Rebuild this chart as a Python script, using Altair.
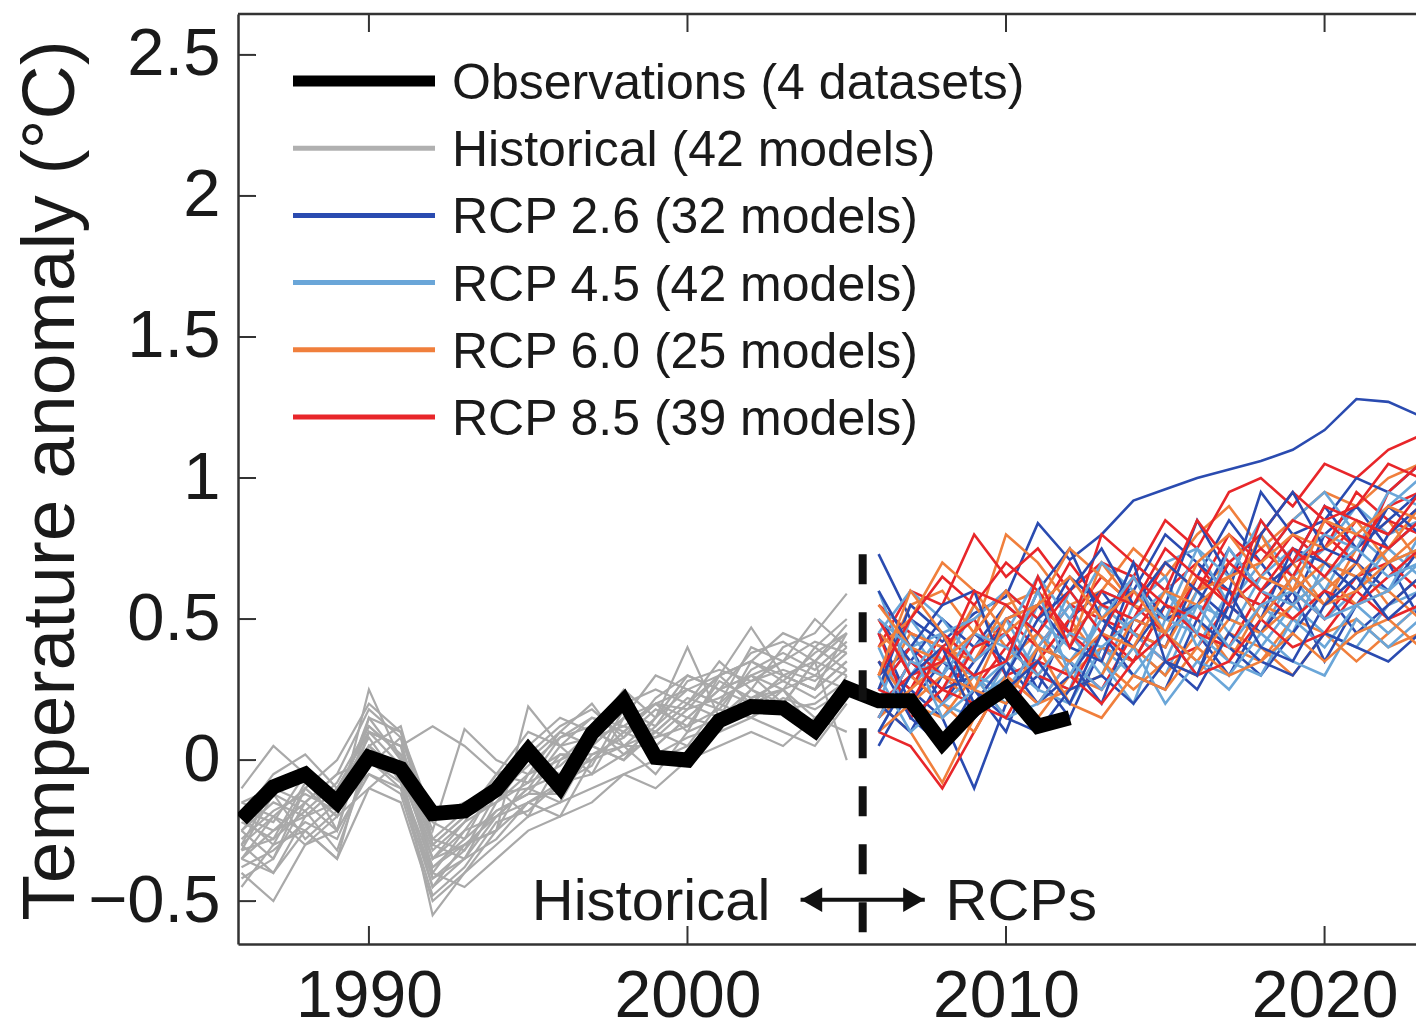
import altair as alt
import pandas as pd

# ---------------- data ----------------
years_obs = list(range(1986, 2013))
obs = [-0.21, -0.095, -0.05, -0.15, 0.01, -0.03, -0.19, -0.18, -0.105, 0.035,
       -0.095, 0.095, 0.21, 0.01, 0.0, 0.14, 0.19, 0.185, 0.105, 0.255,
       0.21, 0.21, 0.06, 0.18, 0.255, 0.12, 0.15]

years_hist = list(range(1986, 2006))
hist_models = [
    [-0.45, -0.30, -0.25, -0.35, -0.10, -0.15, -0.50, -0.40, -0.30, -0.20, -0.15, -0.10, -0.05, -0.10, 0.00, 0.05, 0.10, 0.05, 0.15, 0.10],
    [-0.20, -0.05, 0.02, -0.10, 0.10, 0.05, 0.12, 0.05, -0.05, 0.10, 0.05, 0.15, 0.10, 0.20, 0.25, 0.20, 0.30, 0.35, 0.30, 0.40],
    [-0.30, -0.40, -0.20, -0.15, 0.05, -0.05, -0.35, -0.25, -0.20, -0.10, -0.05, 0.00, 0.10, 0.05, 0.15, 0.25, 0.20, 0.30, 0.25, 0.35],
    [-0.15, -0.20, -0.10, -0.20, 0.25, 0.00, -0.30, -0.35, -0.15, -0.05, 0.00, 0.05, 0.00, 0.15, 0.40, 0.15, 0.25, 0.20, 0.35, 0.30],
    [-0.35, -0.25, -0.15, -0.05, 0.00, -0.10, -0.45, -0.30, -0.25, 0.19, 0.05, -0.05, 0.15, 0.20, 0.10, 0.30, 0.47, 0.30, 0.25, 0.45],
    [-0.25, -0.15, -0.20, -0.10, 0.10, 0.05, -0.25, 0.11, 0.00, -0.05, 0.10, 0.20, 0.05, 0.10, 0.20, 0.35, 0.25, 0.40, 0.45, 0.59],
    [-0.40, -0.50, -0.30, -0.25, -0.05, -0.10, -0.40, -0.45, -0.35, -0.25, -0.20, -0.15, -0.05, 0.00, 0.05, 0.10, 0.15, 0.10, 0.05, 0.20],
    [-0.10, 0.05, -0.05, -0.15, 0.15, 0.10, -0.20, -0.15, -0.10, 0.05, 0.15, 0.10, 0.20, 0.25, 0.20, 0.30, 0.35, 0.45, 0.40, 0.50],
    [-0.30, -0.20, -0.25, -0.35, 0.05, -0.05, -0.55, -0.40, -0.25, -0.15, -0.20, 0.00, 0.05, -0.05, 0.10, 0.15, 0.20, 0.25, 0.10, 0.30],
    [-0.20, -0.30, -0.10, 0.00, 0.20, 0.10, -0.30, -0.20, -0.05, 0.00, 0.10, 0.05, 0.15, 0.30, 0.25, 0.20, 0.40, 0.35, 0.50, 0.40],
    [-0.35, -0.20, -0.30, -0.20, -0.10, 0.00, -0.35, -0.30, -0.20, -0.10, -0.15, 0.05, 0.00, 0.10, 0.05, 0.20, 0.15, 0.25, 0.30, 0.25],
    [-0.25, -0.35, -0.15, -0.25, 0.10, 0.05, -0.40, -0.25, -0.10, -0.20, 0.00, 0.10, 0.25, 0.15, 0.30, 0.25, 0.30, 0.20, 0.35, 0.00],
    [-0.28, -0.18, -0.12, -0.18, 0.02, -0.02, -0.32, -0.22, -0.15, -0.08, -0.02, 0.08, 0.12, 0.08, 0.18, 0.22, 0.28, 0.32, 0.28, 0.38],
    [-0.22, -0.28, -0.08, -0.12, 0.08, -0.08, -0.38, -0.28, -0.18, -0.12, 0.02, 0.02, 0.08, 0.18, 0.12, 0.28, 0.22, 0.28, 0.22, 0.32],
    [-0.32, -0.12, -0.18, -0.08, 0.12, 0.02, -0.28, -0.32, -0.12, -0.02, 0.08, 0.12, 0.02, 0.12, 0.22, 0.18, 0.32, 0.38, 0.32, 0.42],
    [-0.38, -0.32, -0.22, -0.28, -0.02, 0.08, -0.42, -0.35, -0.28, -0.15, -0.08, -0.02, 0.18, 0.02, 0.08, 0.12, 0.25, 0.18, 0.20, 0.28],
    [-0.30, -0.10, -0.05, -0.25, 0.15, 0.00, -0.30, -0.20, -0.15, 0.00, -0.05, 0.10, 0.05, 0.15, 0.25, 0.30, 0.20, 0.30, 0.35, 0.45],
    [-0.20, -0.25, -0.20, -0.10, 0.05, -0.05, -0.45, -0.35, -0.20, -0.15, -0.10, 0.05, 0.15, 0.10, 0.20, 0.15, 0.35, 0.30, 0.25, 0.35],
    [-0.42, -0.35, -0.10, -0.20, 0.10, -0.02, -0.38, -0.30, -0.25, -0.05, 0.02, 0.00, 0.10, 0.20, 0.15, 0.25, 0.30, 0.25, 0.40, 0.32],
    [-0.15, -0.10, -0.15, -0.05, 0.18, 0.08, -0.22, -0.28, -0.08, 0.02, 0.12, 0.18, 0.08, 0.22, 0.30, 0.25, 0.38, 0.42, 0.35, 0.48],
    [-0.35, -0.40, -0.25, -0.15, -0.05, -0.12, -0.48, -0.38, -0.22, -0.18, -0.08, -0.05, 0.02, 0.08, 0.12, 0.18, 0.15, 0.22, 0.18, 0.25],
    [-0.25, -0.12, -0.28, -0.18, 0.05, 0.12, -0.28, -0.18, -0.12, -0.10, 0.05, 0.08, 0.18, 0.12, 0.28, 0.32, 0.28, 0.35, 0.42, 0.38],
    [-0.18, -0.22, -0.05, -0.12, 0.12, 0.02, -0.35, -0.22, -0.05, -0.08, 0.08, 0.15, 0.12, 0.20, 0.18, 0.30, 0.35, 0.28, 0.38, 0.45],
    [-0.32, -0.28, -0.18, -0.32, 0.00, -0.08, -0.42, -0.32, -0.18, -0.12, -0.12, 0.02, 0.05, 0.05, 0.15, 0.12, 0.22, 0.25, 0.15, 0.22],
]

years_rcp = list(range(2006, 2024))
rcp26 = [
    [0.73, 0.50, 0.42, 0.52, 0.58, 0.84, 0.71, 0.80, 0.92, 0.96, 1.00, 1.03, 1.06, 1.10, 1.17, 1.28, 1.27, 1.22],
    [0.05, 0.25, 0.15, -0.10, 0.20, 0.30, 0.15, 0.40, 0.35, 0.55, 0.45, 0.30, 0.50, 0.65, 0.55, 0.70, 0.60, 0.75],
    [0.30, 0.40, 0.20, 0.35, 0.45, 0.25, 0.50, 0.60, 0.45, 0.40, 0.65, 0.85, 0.70, 0.55, 0.80, 0.90, 0.75, 0.85],
    [0.45, 0.20, 0.35, 0.25, 0.10, 0.40, 0.35, 0.20, 0.50, 0.45, 0.30, 0.55, 0.45, 0.60, 0.35, 0.55, 0.70, 0.50],
    [0.15, 0.35, 0.50, 0.40, 0.55, 0.45, 0.65, 0.55, 0.60, 0.80, 0.70, 0.60, 0.95, 0.80, 0.85, 1.00, 0.95, 1.05],
    [0.20, 0.10, 0.30, 0.45, 0.35, 0.20, 0.30, 0.45, 0.30, 0.25, 0.50, 0.40, 0.30, 0.45, 0.60, 0.45, 0.55, 0.65],
    [0.50, 0.35, 0.25, 0.30, 0.50, 0.55, 0.40, 0.35, 0.65, 0.50, 0.55, 0.75, 0.60, 0.70, 0.90, 0.75, 0.85, 0.95],
    [0.25, 0.55, 0.45, 0.20, 0.35, 0.60, 0.75, 0.50, 0.40, 0.55, 0.85, 0.65, 0.50, 0.75, 0.70, 0.60, 0.80, 0.90],
    [0.35, 0.15, 0.05, 0.25, 0.15, 0.10, 0.25, 0.30, 0.20, 0.35, 0.25, 0.45, 0.35, 0.30, 0.45, 0.40, 0.35, 0.45],
    [0.60, 0.40, 0.55, 0.60, 0.30, 0.50, 0.60, 0.75, 0.55, 0.70, 0.60, 0.50, 0.80, 0.95, 0.75, 0.70, 0.90, 0.80],
    [0.10, 0.30, 0.40, 0.15, 0.25, 0.35, 0.20, 0.45, 0.70, 0.35, 0.30, 0.60, 0.40, 0.35, 0.55, 0.65, 0.50, 0.60],
]
rcp45 = [
    [0.35, 0.25, 0.40, 0.30, 0.20, 0.45, 0.35, 0.50, 0.40, 0.30, 0.55, 0.50, 0.45, 0.65, 0.50, 0.60, 0.75, 0.65],
    [0.55, 0.45, 0.30, 0.55, 0.40, 0.35, 0.60, 0.45, 0.70, 0.60, 0.50, 0.70, 0.80, 0.65, 0.75, 0.90, 0.80, 0.85],
    [0.10, 0.30, 0.20, 0.15, 0.35, 0.25, 0.20, 0.40, 0.30, 0.45, 0.35, 0.25, 0.40, 0.55, 0.45, 0.40, 0.55, 0.60],
    [0.25, 0.40, 0.45, 0.20, 0.30, 0.55, 0.45, 0.30, 0.55, 0.65, 0.40, 0.60, 0.55, 0.45, 0.70, 0.65, 0.60, 0.80],
    [0.40, 0.15, 0.25, 0.40, 0.50, 0.30, 0.25, 0.55, 0.45, 0.35, 0.60, 0.45, 0.65, 0.75, 0.60, 0.80, 0.70, 0.75],
    [0.20, 0.50, 0.35, 0.30, 0.25, 0.40, 0.55, 0.35, 0.20, 0.50, 0.45, 0.35, 0.30, 0.50, 0.40, 0.55, 0.45, 0.55],
    [0.60, 0.30, 0.45, 0.50, 0.60, 0.50, 0.40, 0.60, 0.55, 0.70, 0.75, 0.55, 0.70, 0.85, 0.95, 0.80, 0.90, 1.00],
    [0.45, 0.60, 0.50, 0.35, 0.45, 0.65, 0.50, 0.70, 0.60, 0.50, 0.75, 0.65, 0.85, 0.70, 0.80, 0.75, 0.95, 0.90],
    [0.30, 0.10, 0.20, 0.30, 0.15, 0.20, 0.35, 0.25, 0.40, 0.20, 0.35, 0.30, 0.45, 0.35, 0.30, 0.50, 0.40, 0.50],
    [0.15, 0.35, 0.30, 0.45, 0.40, 0.30, 0.45, 0.40, 0.50, 0.60, 0.45, 0.75, 0.60, 0.55, 0.65, 0.75, 0.65, 0.70],
    [0.50, 0.40, 0.15, 0.25, 0.35, 0.60, 0.30, 0.50, 0.65, 0.45, 0.55, 0.40, 0.55, 0.60, 0.50, 0.55, 0.60, 0.70],
]
rcp60 = [
    [0.30, 0.55, 0.60, 0.45, 0.80, 0.70, 0.55, 0.60, 0.75, 0.65, 0.80, 0.90, 0.75, 0.85, 0.95, 0.90, 1.00, 1.05],
    [0.20, 0.10, -0.08, 0.15, 0.25, 0.15, 0.30, 0.25, 0.40, 0.30, 0.45, 0.40, 0.35, 0.50, 0.45, 0.35, 0.45, 0.55],
    [0.45, 0.35, 0.30, 0.20, 0.35, 0.45, 0.30, 0.40, 0.35, 0.55, 0.50, 0.35, 0.55, 0.50, 0.60, 0.70, 0.55, 0.65],
    [0.15, 0.25, 0.35, 0.55, 0.40, 0.30, 0.45, 0.55, 0.45, 0.40, 0.60, 0.70, 0.60, 0.70, 0.55, 0.75, 0.85, 0.70],
    [0.35, 0.20, 0.15, 0.30, 0.15, 0.35, 0.50, 0.35, 0.25, 0.35, 0.30, 0.45, 0.40, 0.30, 0.45, 0.50, 0.40, 0.45],
    [0.25, 0.45, 0.40, 0.35, 0.55, 0.60, 0.40, 0.70, 0.55, 0.50, 0.65, 0.55, 0.80, 0.60, 0.70, 0.65, 0.75, 0.90],
    [0.50, 0.30, 0.20, 0.10, 0.30, 0.20, 0.25, 0.30, 0.50, 0.45, 0.35, 0.50, 0.45, 0.55, 0.65, 0.55, 0.60, 0.50],
    [0.40, 0.50, 0.70, 0.60, 0.45, 0.55, 0.75, 0.65, 0.55, 0.70, 0.60, 0.65, 0.70, 0.80, 0.75, 0.85, 0.70, 0.80],
    [0.10, 0.20, 0.30, 0.25, 0.20, 0.40, 0.20, 0.15, 0.30, 0.25, 0.40, 0.30, 0.35, 0.45, 0.35, 0.45, 0.50, 0.40],
    [0.55, 0.40, 0.35, 0.45, 0.60, 0.40, 0.35, 0.45, 0.40, 0.60, 0.55, 0.65, 0.50, 0.65, 0.55, 0.60, 0.70, 0.75],
    [0.30, 0.60, 0.45, 0.25, 0.50, 0.55, 0.65, 0.50, 0.60, 0.45, 0.70, 0.80, 0.65, 0.60, 0.85, 0.80, 0.90, 0.85],
]
rcp85 = [
    [0.40, 0.60, 0.55, 0.80, 0.65, 0.75, 0.60, 0.70, 0.65, 0.85, 0.75, 0.95, 1.00, 0.90, 1.05, 1.00, 1.10, 1.15],
    [0.10, 0.05, -0.10, 0.10, 0.30, 0.20, 0.35, 0.25, 0.45, 0.35, 0.40, 0.55, 0.45, 0.60, 0.50, 0.65, 0.70, 0.60],
    [0.35, 0.25, 0.45, 0.35, 0.50, 0.40, 0.55, 0.50, 0.45, 0.60, 0.70, 0.55, 0.65, 0.80, 0.70, 0.85, 0.80, 0.90],
    [0.25, 0.40, 0.30, 0.25, 0.40, 0.55, 0.45, 0.35, 0.60, 0.50, 0.55, 0.65, 0.75, 0.65, 0.85, 0.75, 0.90, 0.95],
    [0.55, 0.45, 0.40, 0.50, 0.30, 0.35, 0.50, 0.65, 0.55, 0.45, 0.65, 0.60, 0.55, 0.70, 0.75, 0.95, 0.85, 0.80],
    [0.20, 0.30, 0.20, 0.40, 0.45, 0.30, 0.25, 0.45, 0.35, 0.55, 0.45, 0.40, 0.60, 0.50, 0.60, 0.55, 0.65, 0.75],
    [0.45, 0.15, 0.25, 0.45, 0.60, 0.50, 0.70, 0.55, 0.50, 0.70, 0.60, 0.80, 0.70, 0.85, 0.80, 0.70, 0.95, 1.05],
    [0.30, 0.50, 0.65, 0.55, 0.70, 0.60, 0.45, 0.80, 0.70, 0.60, 0.85, 0.70, 0.80, 0.95, 0.85, 0.90, 1.05, 1.00],
    [0.15, 0.35, 0.25, 0.20, 0.15, 0.35, 0.30, 0.20, 0.35, 0.45, 0.30, 0.35, 0.50, 0.40, 0.45, 0.60, 0.50, 0.55],
    [0.50, 0.30, 0.35, 0.60, 0.55, 0.45, 0.60, 0.45, 0.65, 0.55, 0.50, 0.70, 0.60, 0.75, 0.65, 0.80, 0.75, 0.85],
    [0.25, 0.20, 0.40, 0.30, 0.35, 0.65, 0.40, 0.60, 0.55, 0.75, 0.65, 0.55, 0.85, 0.70, 0.90, 0.85, 0.80, 0.95],
]

scenarios = ["RCP 2.6", "RCP 4.5", "RCP 6.0", "RCP 8.5"]
legend_labels = ["Observations (4 datasets)", "Historical (42 models)",
                 "RCP 2.6 (32 models)", "RCP 4.5 (42 models)",
                 "RCP 6.0 (25 models)", "RCP 8.5 (39 models)"]
annot_labels = ["Historical", "RCPs"]
boundary_year = [2005.5]
boundary_top = [0.73]
arrow_x = [2003.55, 2007.45]
arrow_y = [-0.495]
annot_x = [2002.6, 2008.1]
x_ticks = [1990, 2000, 2010, 2020]
y_ticks = [-0.5, 0, 0.5, 1, 1.5, 2, 2.5]

# ---------------- style ----------------
FONT = "Liberation Sans"
TXT = "#1a1a1a"
AX = "#333333"
GRAY = "#a9a9a9"
COLORS = ["#2a4bb0", "#6aa6d8", "#f07f3c", "#e8262a"]
LEG_COLORS = ["#000000", "#b0b0b0"] + COLORS
LEG_WIDTHS = [11, 5, 5, 5, 5, 5]
W, H = 1178, 930

# ---------------- tables ----------------
hist_rows = []
for m, vals in enumerate(hist_models):
    for yr, v in zip(years_hist, vals):
        hist_rows.append({"model": f"h{m:02d}", "year": yr, "temp": v})
df_hist = pd.DataFrame(hist_rows)

rcp_rows = []
groups = [rcp26, rcp45, rcp60, rcp85]
for m in range(len(rcp26)):
    for s, grp in enumerate(groups):
        for yr, v in zip(years_rcp, grp[m]):
            rcp_rows.append({"model": f"m{m:02d}_{s}", "scenario": scenarios[s],
                             "year": yr, "temp": v})
df_rcp = pd.DataFrame(rcp_rows)

df_obs = pd.DataFrame({"year": years_obs, "temp": obs})

xscale = alt.Scale(domain=[1985.89, 2022.87], nice=False, zero=False)
yscale = alt.Scale(domain=[-0.652, 2.645], nice=False, zero=False)

xaxis = alt.Axis(values=x_ticks, format="d", labelFontSize=66, labelFont=FONT,
                 labelColor=TXT, ticks=False, tickSize=0, labelPadding=20,
                 grid=False, domainColor=AX, domainWidth=2.5, title=None,
                 labelFlush=False, labelOverlap=False)
yaxis = alt.Axis(values=y_ticks, format="~g", labelFontSize=67, labelFont=FONT,
                 labelColor=TXT, ticks=False, tickSize=0, labelPadding=18,
                 grid=False, domainColor=AX, domainWidth=2.5,
                 title="Temperature anomaly (°C)", titleFontSize=75,
                 titleFont=FONT, titleFontWeight="normal", titleColor=TXT,
                 titleX=-165, titleY=466, titleAngle=270, titleAlign="center",
                 titleBaseline="alphabetic", labelFlush=False, labelOverlap=False)


def X(field):
    return alt.X(field, type="quantitative", scale=xscale, axis=xaxis)


def Y(field):
    return alt.Y(field, type="quantitative", scale=yscale, axis=yaxis)


hist_layer = alt.Chart(df_hist).mark_line(strokeWidth=2.2, color=GRAY, clip=True).encode(
    x=X("year"), y=Y("temp"), detail="model:N")

rcp_layer = alt.Chart(df_rcp).mark_line(strokeWidth=2.6, clip=True).encode(
    x=X("year"), y=Y("temp"), detail="model:N",
    color=alt.Color("scenario:N", scale=alt.Scale(domain=scenarios, range=COLORS), legend=None))

obs_layer = alt.Chart(df_obs).mark_line(strokeWidth=15, color="#000000", clip=True,
                                        strokeJoin="miter", strokeMiterLimit=3).encode(
    x=X("year"), y=Y("temp"))

dash_layer = alt.Chart(pd.DataFrame({"x": boundary_year, "y": boundary_top})).mark_rule(
    strokeDash=[30, 28], strokeWidth=8, color="#111111").encode(
    x=X("x"), y=Y("y"), y2=alt.value(H))

arrow_df = pd.DataFrame({"x": [arrow_x[0]], "x2": [arrow_x[1]], "y": arrow_y})
arrow_line = alt.Chart(arrow_df).mark_rule(strokeWidth=4, color="#111111").encode(
    x=X("x"), x2="x2:Q", y=Y("y"))
head_l = alt.Chart(pd.DataFrame({"x": [arrow_x[0]], "y": arrow_y})).mark_point(
    shape="triangle-left", filled=True, size=600, color="#111111", opacity=1, xOffset=11).encode(
    x=X("x"), y=Y("y"))
head_r = alt.Chart(pd.DataFrame({"x": [arrow_x[1]], "y": arrow_y})).mark_point(
    shape="triangle-right", filled=True, size=600, color="#111111", opacity=1, xOffset=-11).encode(
    x=X("x"), y=Y("y"))

txt_l = alt.Chart(pd.DataFrame({"x": [annot_x[0]], "y": arrow_y, "t": [annot_labels[0]]})).mark_text(
    align="right", baseline="middle", fontSize=58, font=FONT, color=TXT, dy=3).encode(
    x=X("x"), y=Y("y"), text="t:N")
txt_r = alt.Chart(pd.DataFrame({"x": [annot_x[1]], "y": arrow_y, "t": [annot_labels[1]]})).mark_text(
    align="left", baseline="middle", fontSize=58, font=FONT, color=TXT, dy=3).encode(
    x=X("x"), y=Y("y"), text="t:N")

# inward ticks and top frame
df_yt = pd.DataFrame({"v": y_ticks})
df_xt = pd.DataFrame({"v": x_ticks})
ytick_layer = alt.Chart(df_yt).mark_rule(color=AX, strokeWidth=2).encode(
    y=Y("v"), x=alt.value(0), x2=alt.value(18))
xtick_bot = alt.Chart(df_xt).mark_rule(color=AX, strokeWidth=2).encode(
    x=X("v"), y=alt.value(H), y2=alt.value(H - 18))
xtick_top = alt.Chart(df_xt).mark_rule(color=AX, strokeWidth=2).encode(
    x=X("v"), y=alt.value(0), y2=alt.value(18))
top_frame = alt.Chart(pd.DataFrame({"a": [0]})).mark_rule(color=AX, strokeWidth=2.5).encode(
    x=alt.value(0), x2=alt.value(W + 5), y=alt.value(0))

# legend
leg_layers = []
leg_y0, leg_dy = 67, 67.2
for i, lab in enumerate(legend_labels):
    ly = leg_y0 + i * leg_dy
    leg_layers.append(
        alt.Chart(pd.DataFrame({"a": [0]})).mark_rule(color=LEG_COLORS[i], strokeWidth=LEG_WIDTHS[i]).encode(
            x=alt.value(55), x2=alt.value(197), y=alt.value(ly)))
    leg_layers.append(
        alt.Chart(pd.DataFrame({"t": [lab]})).mark_text(
            align="left", baseline="middle", fontSize=50, font=FONT, color=TXT, dy=3).encode(
            x=alt.value(214), y=alt.value(ly), text="t:N"))

chart = alt.layer(
    hist_layer, rcp_layer, obs_layer, dash_layer, arrow_line, head_l, head_r,
    txt_l, txt_r, ytick_layer, xtick_bot, xtick_top, top_frame, *leg_layers
).properties(
    width=W, height=H,
    autosize=alt.AutoSizeParams(type="none"),
    padding={"left": 238, "top": 14, "right": 0, "bottom": 87},
    background="white",
).configure_view(stroke=None)

chart.save("out.html", embed_options={"renderer": "svg", "actions": False})
